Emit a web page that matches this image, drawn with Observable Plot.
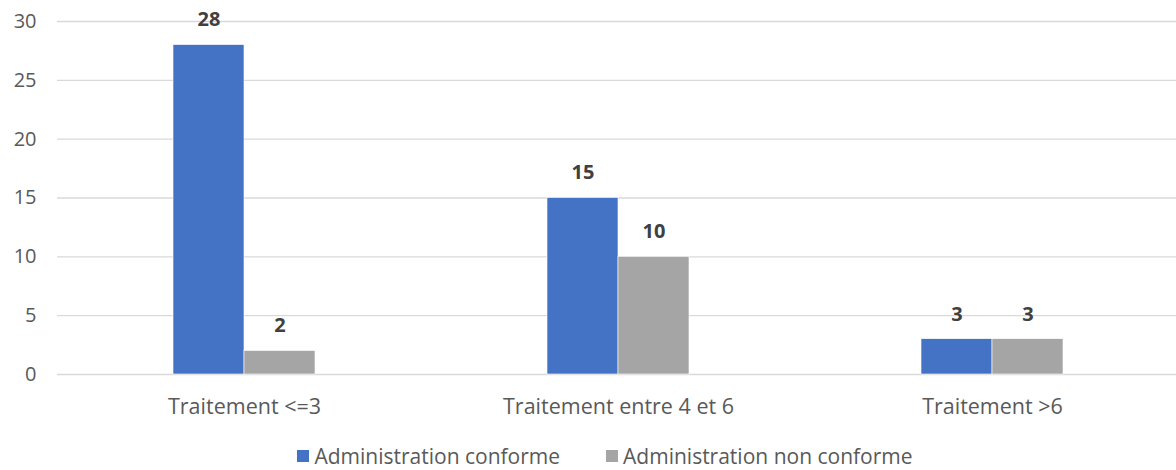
<!DOCTYPE html>
<html>
<head>
<meta charset="utf-8">
<script src="https://cdn.jsdelivr.net/npm/d3@7"></script>
<script src="https://cdn.jsdelivr.net/npm/@observablehq/plot@0.6"></script>
<style>
  body { margin: 0; background: #fff; font-family: "Open Sans", sans-serif; }
  #chart { width: 1176px; }
  .legend { display: flex; justify-content: center; gap: 46px; font-size: 21px; color: #595959; margin-top: 12px; margin-left: 34px; line-height: 24px; }
  .legend span.item { display: inline-flex; align-items: center; }
  .legend span.sw { display: inline-block; width: 12px; height: 12px; margin-right: 5px; }
  .fxaxis text { font-size: 21.5px; }
</style>
</head>
<body>
<div id="chart"></div>
<script>
// Treatment groups, series and counts
const categories = ["Traitement <=3", "Traitement entre 4 et 6", "Traitement >6"];
const series = ["Administration conforme", "Administration non conforme"];
const conforme = [28, 15, 3];
const nonConforme = [2, 10, 3];
const yTicks = [0, 5, 10, 15, 20, 25, 30];
const colors = ["#4472C4", "#A5A5A5"];

const rows = categories.flatMap((c, i) => [
  {cat: c, serie: series[0], value: conforme[i]},
  {cat: c, serie: series[1], value: nonConforme[i]}
]);

const plot = Plot.plot({
  width: 1176,
  height: 432,
  marginLeft: 56,
  marginRight: -3,
  marginTop: 21,
  marginBottom: 58,
  style: {fontFamily: "Open Sans, sans-serif", fontSize: "20px", color: "#595959", overflow: "visible"},
  fx: {domain: categories, padding: 0, label: null},
  x: {domain: series, paddingInner: 0, paddingOuter: 1.6, axis: null},
  y: {domain: [0, 30], ticks: yTicks, label: null},
  color: {domain: series, range: colors},
  marks: [
    Plot.ruleY(yTicks, {stroke: "#d9d9d9", strokeWidth: 1.3}),
    Plot.axisY({ticks: yTicks, tickSize: 0, tickPadding: 21, label: null, fill: "#595959", fontSize: 20}),
    Plot.axisFx({anchor: "bottom", tickSize: 0, tickPadding: 24, label: null, fill: "#595959", className: "fxaxis"}),
    Plot.barY(rows, {fx: "cat", x: "serie", y: "value", fill: "serie", stroke: "#fff", strokeWidth: 0.6}),
    Plot.text(rows, {fx: "cat", x: "serie", y: "value", text: d => String(d.value), dy: -25,
      fontWeight: "bold", fontSize: 20, fill: "#404040"})
  ]
});
document.getElementById("chart").appendChild(plot);

const legend = document.createElement("div");
legend.className = "legend";
series.forEach((s, i) => {
  const item = document.createElement("span");
  item.className = "item";
  item.innerHTML = `<span class="sw" style="background:${colors[i]}"></span>${s}`;
  legend.appendChild(item);
});
document.body.appendChild(legend);
</script>
</body>
</html>
